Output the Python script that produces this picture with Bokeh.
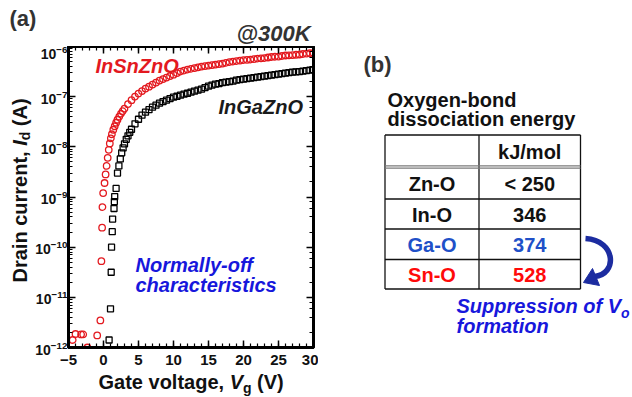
from math import pi
from bokeh.plotting import figure
from bokeh.models import Range1d, LinearAxis, LogAxis, SingleIntervalTicker, Label, CustomJSTickFormatter
from bokeh.layouts import row, column
from bokeh.core.properties import value
from bokeh.embed import file_html
from bokeh.resources import INLINE

FONT = "Liberation Sans"
RED = "#e3191f"
BLUE_TXT = "#1717dc"
DARK = "#333333"
INK = "#111111"

# ---------------- data: InSnZnO (red circles) ----------------
isz_vg = [-4.4, -4.0, -3.2, -2.9, -2.3, -0.9, -0.45, -0.3, -0.2, -0.15, -0.05,
          0.15, 0.3, 0.45, 0.6, 0.75, 0.9, 1.05, 1.2, 1.4, 1.6, 1.8,
          2.0, 2.25, 2.5, 2.75, 3.0,
          3.5, 4.0, 4.5, 5.0, 5.5, 6.0, 6.5, 7.0, 7.5, 8.0, 8.5, 9.0, 9.5, 10.0,
          10.5, 11.0, 11.5, 12.0, 12.5, 13.0, 13.5, 14.0, 14.5, 15.0, 15.5, 16.0,
          16.5, 17.0, 17.5, 18.0, 18.5, 19.0, 19.5, 20.0, 20.5, 21.0, 21.5, 22.0,
          22.5, 23.0, 23.5, 24.0, 24.5, 25.0, 25.5, 26.0, 26.5, 27.0, 27.5, 28.0,
          28.5, 29.0, 29.5, 30.0]
isz_id = [1.41e-12, 1.86e-12, 1.82e-12, 1.82e-12, 1.0e-12, 1.74e-12, 3.47e-12, 5.25e-11, 2.45e-10, 6.3e-10, 1.2e-9,
          1.9e-9, 2.82e-9, 4.17e-9, 6.03e-9, 8.7e-9, 1.17e-8, 1.48e-8, 1.78e-8, 2.19e-8, 2.57e-8, 3.02e-8,
          3.47e-8, 3.98e-8, 4.57e-8, 5.13e-8, 5.75e-8,
          7.08e-8, 8.5e-8, 1.0e-7, 1.15e-7, 1.29e-7, 1.45e-7, 1.58e-7, 1.74e-7, 1.91e-7, 2.09e-7, 2.24e-7, 2.40e-7, 2.57e-7, 2.75e-7,
          2.95e-7, 3.16e-7, 3.31e-7, 3.47e-7, 3.59e-7, 3.72e-7, 3.85e-7, 3.98e-7, 4.07e-7, 4.17e-7, 4.27e-7, 4.37e-7,
          4.47e-7, 4.57e-7, 4.73e-7, 4.90e-7, 5.01e-7, 5.13e-7, 5.25e-7, 5.37e-7, 5.43e-7, 5.50e-7, 5.62e-7, 5.75e-7,
          5.82e-7, 5.89e-7, 6.03e-7, 6.17e-7, 6.24e-7, 6.31e-7, 6.46e-7, 6.61e-7, 6.68e-7, 6.76e-7, 6.84e-7, 6.92e-7,
          7.08e-7, 7.24e-7, 7.33e-7, 7.41e-7]

# ---------------- data: InGaZnO (black squares) ----------------
igz_vg = [0.8, 1.0, 1.1, 1.15, 1.25, 1.3, 1.5, 1.55, 1.6, 1.8,
          2.0, 2.2, 2.4, 2.6, 2.8, 3.0, 3.25, 3.5, 3.75,
          4.0, 4.5, 5.0, 5.5, 6.0, 6.5, 7.0, 7.5, 8.0, 8.5, 9.0, 9.5, 10.0,
          10.5, 11.0, 11.5, 12.0, 12.5, 13.0, 13.5, 14.0, 14.5, 15.0, 15.5, 16.0,
          16.5, 17.0, 17.5, 18.0, 18.5, 19.0, 19.5, 20.0, 20.5, 21.0, 21.5, 22.0,
          22.5, 23.0, 23.5, 24.0, 24.5, 25.0, 25.5, 26.0, 26.5, 27.0, 27.5, 28.0,
          28.5, 29.0, 29.5, 30.0]
igz_id = [1.41e-12, 5.9e-12, 3.16e-11, 1.0e-10, 2.04e-10, 3.63e-10, 5.9e-10, 8.1e-10, 1.02e-9, 1.48e-9,
          3.0e-9, 4.17e-9, 5.75e-9, 7.6e-9, 9.5e-9, 1.15e-8, 1.41e-8, 1.66e-8, 1.95e-8,
          2.24e-8, 2.88e-8, 3.55e-8, 4.27e-8, 4.9e-8, 5.5e-8, 6.17e-8, 6.76e-8, 7.41e-8, 7.94e-8, 8.5e-8, 9.12e-8, 9.77e-8,
          1.02e-7, 1.07e-7, 1.12e-7, 1.17e-7, 1.23e-7, 1.29e-7, 1.35e-7, 1.41e-7, 1.51e-7, 1.62e-7, 1.70e-7, 1.78e-7,
          1.82e-7, 1.91e-7, 1.95e-7, 2.0e-7, 2.04e-7, 2.14e-7, 2.19e-7, 2.24e-7, 2.29e-7, 2.34e-7, 2.40e-7, 2.45e-7,
          2.51e-7, 2.57e-7, 2.63e-7, 2.69e-7, 2.75e-7, 2.82e-7, 2.88e-7, 2.95e-7, 3.02e-7, 3.09e-7, 3.13e-7, 3.16e-7,
          3.24e-7, 3.31e-7, 3.39e-7, 3.47e-7]

# ---------------- data: table ----------------
table_header = "kJ/mol"
bonds = ["Zn-O", "In-O", "Ga-O", "Sn-O"]
energies = ["< 250", "346", "374", "528"]
row_colors = [INK, INK, "#2050c8", "#ff0a0a"]

# ---------------- text width helper (Arial/Liberation Sans Bold metrics) ----------------
_W = {' ': 278, '(': 333, ')': 333, ',': 278, '-': 333, '.': 278, '/': 278, '<': 584, '@': 975,
      'A': 722, 'B': 722, 'C': 722, 'D': 722, 'E': 667, 'F': 611, 'G': 778, 'H': 722, 'I': 278,
      'J': 556, 'K': 722, 'L': 611, 'M': 833, 'N': 722, 'O': 778, 'P': 667, 'S': 667, 'T': 611,
      'V': 667, 'Z': 611, 'a': 556, 'b': 611, 'c': 556, 'd': 611, 'e': 556, 'f': 333, 'g': 611,
      'h': 611, 'i': 278, 'j': 278, 'k': 556, 'l': 278, 'm': 889, 'n': 611, 'o': 611, 'p': 611,
      'q': 611, 'r': 389, 's': 556, 't': 333, 'u': 611, 'v': 556, 'w': 778, 'x': 556, 'y': 556, 'z': 500}


def tw(s, size):
    return sum(_W.get(c, 556) for c in s) * size / 1000.0


def layout_pieces(pieces, px, py, rotate=False):
    """pieces: (text, size, style, color, sub); px,py = start of baseline in page pixels.
    Spaces are turned into advances (SVG collapses leading/trailing blanks)."""
    out = []
    pos = 0.0
    for text, size, style, color, sub in pieces:
        lead = tw(text[:len(text) - len(text.lstrip())], size)
        shown = text.strip()
        a = pos + lead
        if rotate:
            out.append((px + sub - 0.35 * size, py - a, shown, size, style, color))
        else:
            out.append((px + a, py + sub - 0.35 * size, shown, size, style, color))
        pos += tw(text, size)
    return out


def text_fig(w, h, y_top=0, y_bot=None, **kw):
    y_bot = h if y_bot is None else y_bot
    f = figure(width=w, height=h, x_range=Range1d(0, w), y_range=Range1d(y_bot, y_top),
               output_backend="svg", toolbar_location=None,
               x_axis_location=None, y_axis_location=None, **kw)
    f.grid.visible = False
    f.outline_line_color = None
    f.background_fill_color = "white"
    f.border_fill_color = "white"
    return f


def put(fig, ox, oy, items, rotate=False):
    for x, y, text, size, style, color in items:
        fig.text(x=[x - ox], y=[y - oy], text=[text], text_font=value(FONT),
                 text_font_size=f"{size}px", text_font_style=style, text_color=color,
                 text_align="left", text_baseline="middle", angle=(pi / 2 if rotate else 0))


# ================= main plot (a) =================
# page geometry: T y 0..46 ; L x 0..32 ; P x 32..318, y 46..371 ; B y 371..397
LW, TH, PH = 32, 46, 325
PB = 24                      # bottom border of P
FL, FT, FB = 68, TH, TH + PH - PB   # frame left/top/bottom in page px
p = figure(width=318 - LW, height=PH, x_range=Range1d(-5, 30), y_range=Range1d(1e-12, 1e-6),
           y_axis_type="log", output_backend="svg", toolbar_location=None,
           min_border_left=FL - LW, min_border_right=5, min_border_top=0, min_border_bottom=PB)
p.grid.visible = False
p.outline_line_color = "black"
p.outline_line_width = 3
p.background_fill_color = "white"
p.border_fill_color = "white"

p.xaxis.ticker = SingleIntervalTicker(interval=5, num_minor_ticks=5)
for ax in p.xaxis + p.yaxis:
    ax.axis_line_width = 3
    ax.major_tick_in = 7
    ax.major_tick_out = 0
    ax.minor_tick_in = 4
    ax.minor_tick_out = 0
    ax.major_tick_line_width = 1.5
    ax.minor_tick_line_width = 1.2
    ax.major_label_text_font = FONT
    ax.major_label_text_font_style = "bold"
    ax.major_label_text_color = INK
p.xaxis.major_label_text_font_size = "15px"
p.xaxis.major_label_standoff = 7
p.yaxis.major_label_text_font_size = "14px"
p.yaxis.major_label_standoff = 1

ax_top = LinearAxis(ticker=SingleIntervalTicker(interval=5, num_minor_ticks=5),
                    formatter=CustomJSTickFormatter(code="return ''"))
ax_right = LogAxis(formatter=CustomJSTickFormatter(code="return ''"))
for ax in (ax_top, ax_right):
    ax.axis_line_width = 3
    ax.major_tick_in = 7
    ax.major_tick_out = 0
    ax.minor_tick_in = 4
    ax.minor_tick_out = 0
    ax.major_tick_line_width = 1.5
    ax.minor_tick_line_width = 1.2
    ax.major_label_standoff = 0
    ax.major_label_text_font_size = "1px"
p.add_layout(ax_top, "above")
p.add_layout(ax_right, "right")

p.scatter(igz_vg, igz_id, marker="square", size=6, fill_color=None, line_color="#000000", line_width=1.3)
p.scatter(isz_vg, isz_id, marker="circle", size=6.5, fill_color=None, line_color=RED, line_width=1.3)


def add_labels(fig, items):
    for x, y, text, size, style, color in items:
        fig.add_layout(Label(x=x - FL, y=FB - y, x_units="screen", y_units="screen", text=text,
                             text_font=FONT, text_font_size=f"{size}px", text_font_style=style,
                             text_color=color, text_align="left", text_baseline="middle"))


add_labels(p, layout_pieces([("InSnZnO", 20, "bold italic", RED, 0)], 95, 72))
add_labels(p, layout_pieces([("InGaZnO", 20, "bold italic", "#1a1a1a", 0)], 218, 113))
add_labels(p, layout_pieces([("Normally-off", 20, "bold italic", BLUE_TXT, 0)], 135, 271))
add_labels(p, layout_pieces([("characteristics", 20, "bold italic", BLUE_TXT, 0)], 135, 291))

# top strip: (a) and @300K  (page x 0..318, y 0..46)
T = text_fig(318, TH, min_border=0)
put(T, 0, 0, layout_pieces([("(a)", 22, "bold", DARK, 0)], 9, 26))
put(T, 0, 0, layout_pieces([("@300K", 22, "bold italic", DARK, 0)], 310 - tw("@300K", 22), 41))

# y-label strip: same top/bottom borders as P, its frame maps the page rows FT..FB
L = text_fig(LW, PH, y_top=FT, y_bot=FB, min_border_left=0, min_border_right=0,
             min_border_top=0, min_border_bottom=PB)
put(L, 0, 0, layout_pieces([("Drain current, ", 20, "bold", INK, 0),
                            ("I", 20, "bold italic", INK, 0),
                            ("d", 14, "bold", INK, 3),
                            (" (A)", 20, "bold", INK, 0)], 26, 282, rotate=True), rotate=True)

# x-label strip (page x 0..318, y 371..397)
BY = TH + PH
B = text_fig(318, 397 - BY, min_border=0)
put(B, 0, BY, layout_pieces([("Gate voltage, ", 20, "bold", INK, 0),
                             ("V", 20, "bold italic", INK, 0),
                             ("g", 14, "bold", INK, 4),
                             (" (V)", 20, "bold", INK, 0)], 98, 388))

# ================= right panel (b) =================
OX, OY = 318, 0
RW, RH = 314, 397
q = text_fig(RW, RH, min_border=0)

put(q, OX, OY, layout_pieces([("(b)", 22, "bold", DARK, 0)], 363, 72))
put(q, OX, OY, layout_pieces([("Oxygen-bond", 20, "bold", INK, 0)], 387, 106))
put(q, OX, OY, layout_pieces([("dissociation energy", 20, "bold", INK, 0)], 387, 125))

tl, tm, tr = 384.5, 478.5, 580
t_top, t_head = 134.5, 166.5
row_lines = [166.5, 198.5, 228.5, 259, 288.5]
q.segment(x0=[tl - OX, tl - OX, tm - OX, tr - OX], y0=[t_top - OY] * 4,
          x1=[tr - OX, tl - OX, tm - OX, tr - OX],
          y1=[t_top - OY, row_lines[-1] - OY, row_lines[-1] - OY, row_lines[-1] - OY],
          line_color=INK, line_width=1.3)
q.segment(x0=[tl - OX] * 2, y0=[t_head - 1.2 - OY, t_head + 1.2 - OY],
          x1=[tr - OX] * 2, y1=[t_head - 1.2 - OY, t_head + 1.2 - OY],
          line_color="#7a7a7a", line_width=1.3)
q.segment(x0=[tl - OX] * 4, y0=[y - OY for y in row_lines[1:]],
          x1=[tr - OX] * 4, y1=[y - OY for y in row_lines[1:]],
          line_color=INK, line_width=1.3)

c1, c2 = (tl + tm) / 2 - OX, (tm + tr) / 2 - OX
q.text(x=[c2], y=[(t_top + t_head) / 2 + 1 - OY], text=[table_header], text_font=value(FONT),
       text_font_size="20px", text_font_style="bold", text_color=INK,
       text_align="center", text_baseline="middle")
centers = [(row_lines[i] + row_lines[i + 1]) / 2 + 1 - OY for i in range(4)]
q.text(x=[c1] * 4, y=centers, text=bonds, text_font=value(FONT), text_font_size="20px",
       text_font_style="bold", text_color=row_colors, text_align="center", text_baseline="middle")
q.text(x=[c2] * 4, y=centers, text=energies, text_font=value(FONT), text_font_size="20px",
       text_font_style="bold", text_color=row_colors, text_align="center", text_baseline="middle")

AC = "#1c2ca0"
q.bezier(x0=[585 - OX], y0=[238 - OY], cx0=[616 - OX], cy0=[240 - OY],
         cx1=[617 - OX], cy1=[274 - OY], x1=[594 - OX], y1=[276 - OY],
         line_color=AC, line_width=5.5)
q.patch(x=[583 - OX, 592 - OX, 599 - OX], y=[282 - OY, 268 - OY, 285 - OY],
        fill_color=AC, line_color=AC, line_width=1)

put(q, OX, OY, layout_pieces([("Suppression of ", 20, "bold italic", BLUE_TXT, 0),
                              ("V", 20, "bold italic", BLUE_TXT, 0),
                              ("o", 14, "bold italic", BLUE_TXT, 5)], 456, 312))
put(q, OX, OY, layout_pieces([("formation", 20, "bold italic", BLUE_TXT, 0)], 456, 332))

layout = row(column(T, row(L, p), B), q)
open("out.html", "w").write(file_html(layout, INLINE))
